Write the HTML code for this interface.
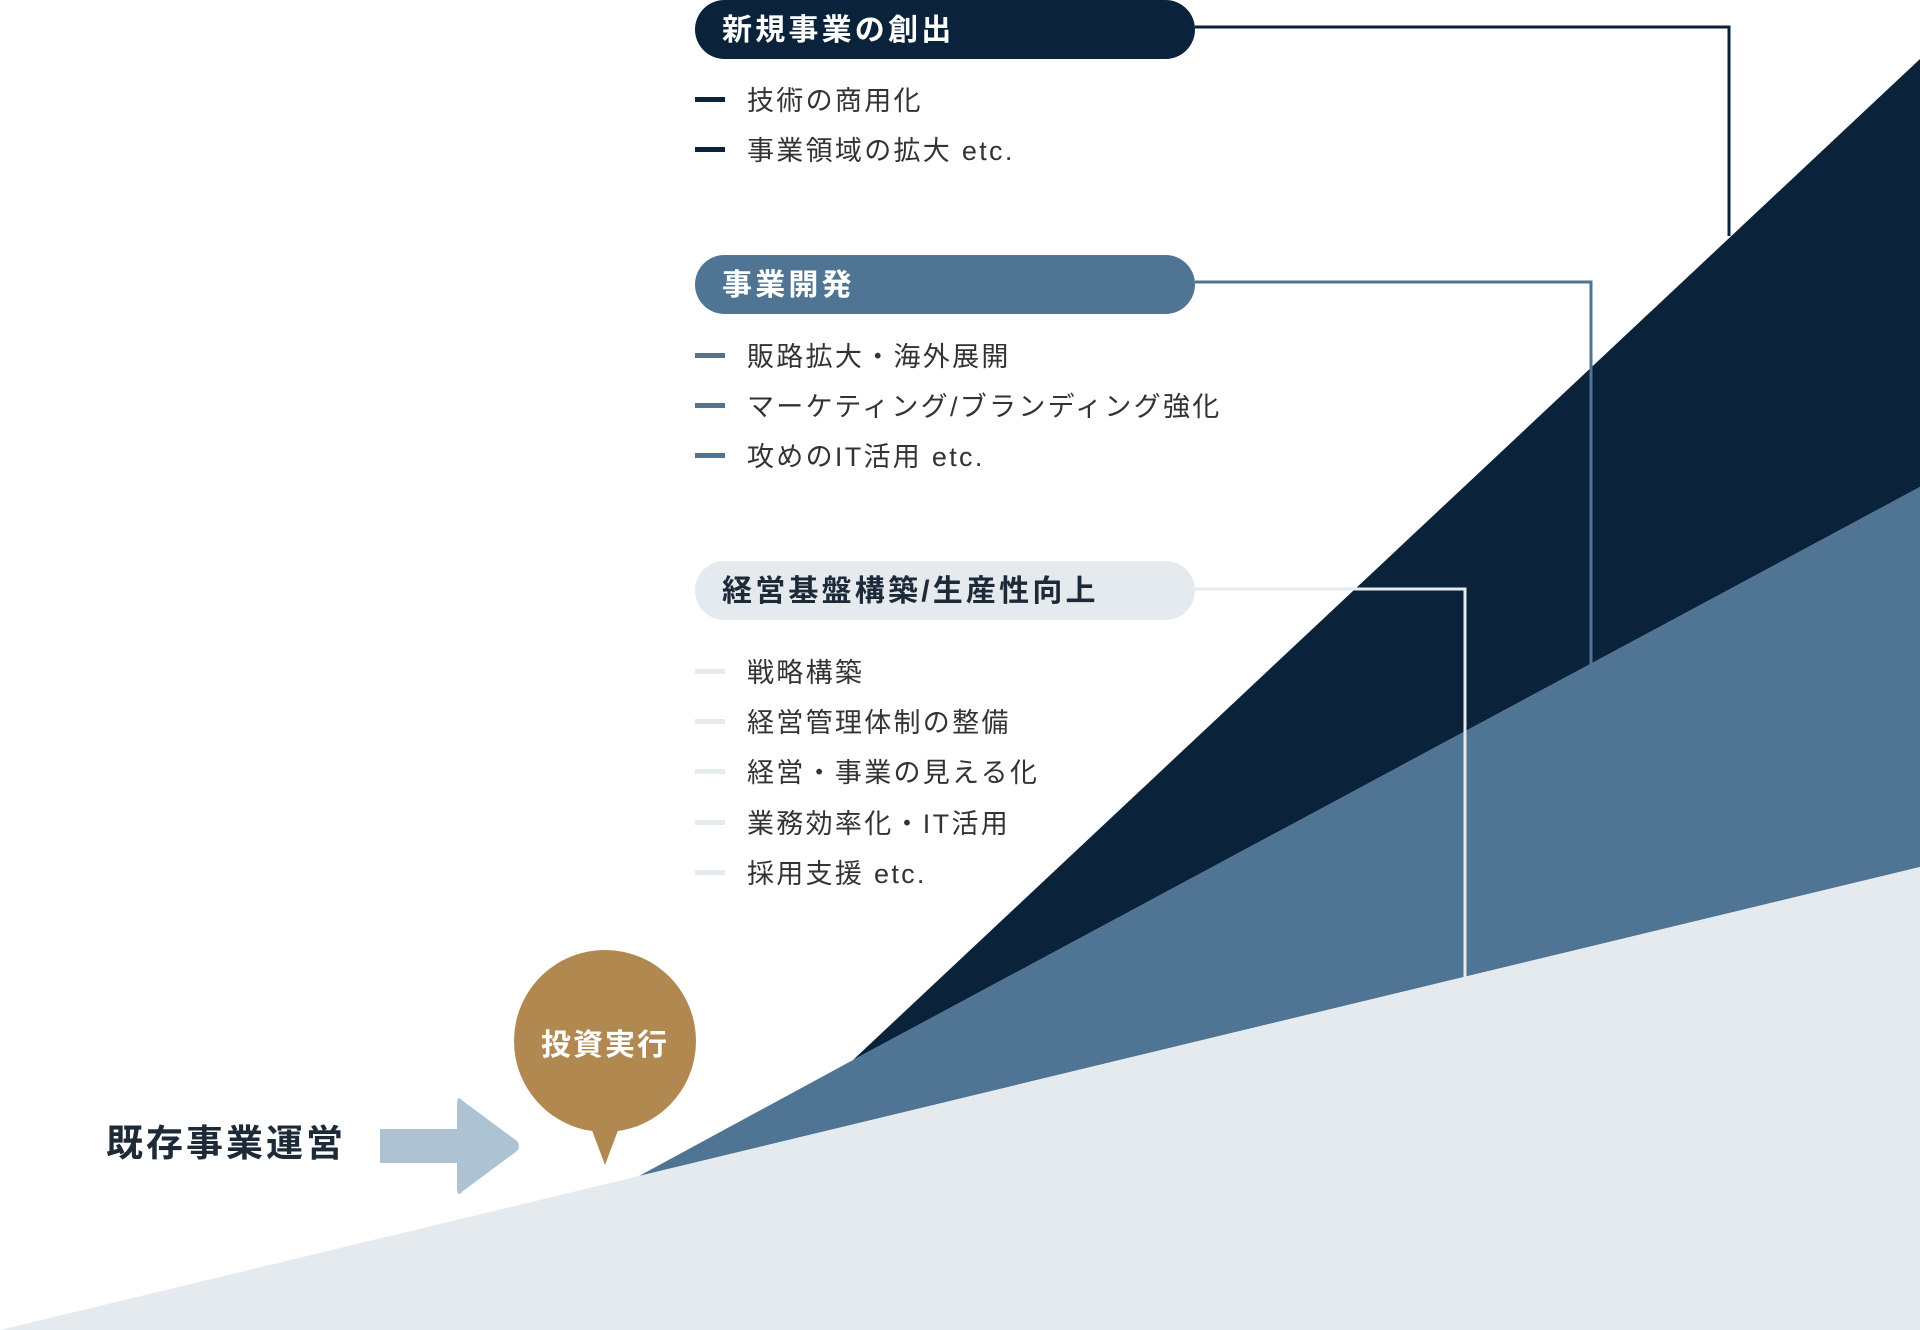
<!DOCTYPE html>
<html><head><meta charset="utf-8"><style>
body{margin:0;width:1920px;height:1330px;background:#fff;overflow:hidden;position:relative;font-family:"Liberation Sans","Noto Sans CJK JP",sans-serif}
.pill{position:absolute;left:695px;width:500px;height:59px;border-radius:30px;font-weight:bold;font-size:30px;line-height:62px;box-sizing:border-box;padding-left:27px;letter-spacing:3.2px}
.it{position:absolute;left:695px;font-size:27px;color:#333;line-height:34px;height:34px;letter-spacing:2.3px}
.it i{display:inline-block;width:30px;height:5px;vertical-align:middle;margin-right:22px;position:relative;top:-3px}
</style></head><body>
<svg width="1920" height="1330" style="position:absolute;left:0;top:0">
<polygon points="853,1060 1920,59 1920,487" fill="#0b223b"/>
<polygon points="639,1176 853,1060 1920,487 1920,867" fill="#4f7494"/>
<polygon points="0,1330 639,1176 1920,867 1920,1330" fill="#e5eaef"/>
<polyline points="1195,27 1729,27 1729,236" fill="none" stroke="#0b223b" stroke-width="3"/>
<polyline points="1195,282 1591,282 1591,665" fill="none" stroke="#4f7494" stroke-width="3"/>
<polyline points="1195,589 1465,589 1465,977" fill="none" stroke="#e5eaef" stroke-width="3"/>
<rect x="380" y="1129" width="80" height="34" fill="#adc3d3"/>
<path d="M457,1104 Q457,1094 463,1101 L517,1141 Q521,1146 517,1151 L463,1191 Q457,1198 457,1188 Z" fill="#adc3d3"/>
<circle cx="605" cy="1041" r="91" fill="#b18850"/>
<polygon points="590,1125 620,1125 605,1165" fill="#b18850"/>
</svg>
<div class="pill" style="top:0;background:#0b223b;color:#fff">新規事業の創出</div>
<div class="it" style="top:84px"><i style="background:#0b223b"></i>技術の商用化</div>
<div class="it" style="top:134px"><i style="background:#0b223b"></i>事業領域の拡大 etc.</div>
<div class="pill" style="top:255px;background:#4f7494;color:#fff">事業開発</div>
<div class="it" style="top:340px"><i style="background:#4f7494"></i>販路拡大・海外展開</div>
<div class="it" style="top:390px"><i style="background:#4f7494"></i>マーケティング/ブランディング強化</div>
<div class="it" style="top:440px"><i style="background:#4f7494"></i>攻めのIT活用 etc.</div>
<div class="pill" style="top:561px;background:#e5eaef;color:#1d2a38">経営基盤構築/生産性向上</div>
<div class="it" style="top:656px"><i style="background:#e5eaef"></i>戦略構築</div>
<div class="it" style="top:706px"><i style="background:#e5eaef"></i>経営管理体制の整備</div>
<div class="it" style="top:756px"><i style="background:#e5eaef"></i>経営・事業の見える化</div>
<div class="it" style="top:807px"><i style="background:#e5eaef"></i>業務効率化・IT活用</div>
<div class="it" style="top:857px"><i style="background:#e5eaef"></i>採用支援 etc.</div>
<div style="position:absolute;left:106px;top:1120px;font-size:37px;font-weight:bold;color:#1d2a38;line-height:48px;letter-spacing:3px">既存事業運営</div>
<div style="position:absolute;left:514px;top:1026px;width:182px;text-align:center;font-size:30px;font-weight:bold;color:#fff;line-height:40px;letter-spacing:2px">投資実行</div>
</body></html>
